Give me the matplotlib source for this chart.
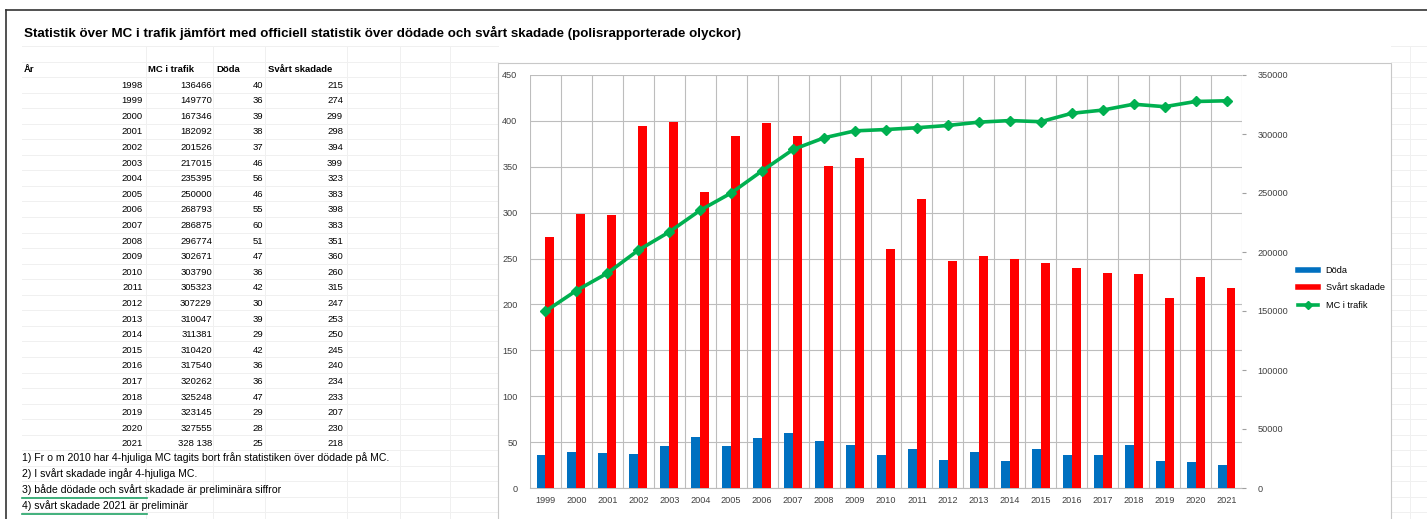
import matplotlib.pyplot as plt
from matplotlib.lines import Line2D
import numpy as np

# Tabellens data (1998-2021)
ar = list(range(1998, 2022))
mc_i_trafik = [136466, 149770, 167346, 182092, 201526, 217015, 235395, 250000,
               268793, 286875, 296774, 302671, 303790, 305323, 307229, 310047,
               311381, 310420, 317540, 320262, 325248, 323145, 327555, 328138]
doda = [40, 36, 39, 38, 37, 46, 56, 46, 55, 60, 51, 47, 36, 42, 30, 39,
        29, 42, 36, 36, 47, 29, 28, 25]
svart_skadade = [215, 274, 299, 298, 394, 399, 323, 383, 398, 383, 351, 360,
                 260, 315, 247, 253, 250, 245, 240, 234, 233, 207, 230, 218]

rubrik = "Statistik över MC i trafik jämfört med officiell statistik över dödade och svårt skadade (polisrapporterade olyckor)"
noter = [
    "1) Fr o m 2010 har 4-hjuliga MC tagits bort från statistiken över dödade på MC.",
    "2) I svårt skadade ingår 4-hjuliga MC.",
    "3) både dödade och svårt skadade är preliminära siffror",
    "4) svårt skadade 2021 är preliminär",
]

plt.rcParams["font.family"] = ["Liberation Sans", "DejaVu Sans"]

W, H = 1427, 519
fig = plt.figure(figsize=(W / 100, H / 100), dpi=100)

# bakgrund = kalkylbladet, i pixelkoordinater
bg = fig.add_axes([0, 0, 1, 1])
bg.set_xlim(0, W)
bg.set_ylim(H, 0)
bg.axis("off")

cell = "#f0f0f0"
for y in np.arange(46, H, 15.55):
    bg.plot([22, 498], [y, y], color=cell, lw=0.7, zorder=0)
    bg.plot([1391, W], [y, y], color=cell, lw=0.7, zorder=0)
for x in [146, 213, 265, 347, 400, 450]:
    bg.plot([x, x], [46, H], color=cell, lw=0.7, zorder=0)
bg.plot([1410, 1410], [46, H], color=cell, lw=0.7, zorder=0)

# ram runt skärmbilden
bg.plot([6, 6], [10, H], color="#333333", lw=1.2)
bg.plot([6, W], [10, 10], color="#333333", lw=1.2)

bg.text(24, 33, rubrik, fontsize=9.6, fontweight="bold", va="center", ha="left")

# tabell
fs = 6.8
y0 = 69
bg.text(24, y0, "År", fontsize=fs, fontweight="bold", va="center")
bg.text(148, y0, "MC i trafik", fontsize=fs, fontweight="bold", va="center")
bg.text(216, y0, "Döda", fontsize=fs, fontweight="bold", va="center")
bg.text(268, y0, "Svårt skadade", fontsize=fs, fontweight="bold", va="center")
for i, a in enumerate(ar):
    y = 85 + i * 15.6
    mc_txt = f"{mc_i_trafik[i]:,}".replace(",", " ") if a == 2021 else str(mc_i_trafik[i])
    bg.text(143, y, str(a), fontsize=fs, ha="right", va="center")
    bg.text(212, y, mc_txt, fontsize=fs, ha="right", va="center")
    bg.text(263, y, str(doda[i]), fontsize=fs, ha="right", va="center")
    bg.text(343, y, str(svart_skadade[i]), fontsize=fs, ha="right", va="center")

for i, n in enumerate(noter):
    bg.text(22, 458 + i * 16, n, fontsize=7.6, ha="left", va="center")
bg.plot([22, 147], [498, 498], color="#21a366", lw=1.2)
bg.plot([22, 147], [514, 514], color="#21a366", lw=1.2)

# diagramramen
bg.add_patch(plt.Rectangle((498, 63), 893, H - 60, facecolor="white",
                           edgecolor="#c8c8c8", lw=0.8, zorder=1))

# diagram (1999-2021)
dia_ar = ar[1:]
dia_doda = doda[1:]
dia_svart = svart_skadade[1:]
dia_mc = mc_i_trafik[1:]
x = np.arange(len(dia_ar))

grid = "#bdbdbd"
ax = fig.add_axes([530 / W, 31 / H, (1242 - 530) / W, (488 - 75) / H])
ax.set_zorder(2)
ax.bar(x - 0.145, dia_doda, width=0.29, color="#0070C0", zorder=3)
ax.bar(x + 0.145, dia_svart, width=0.29, color="#FF0000", zorder=3)
ax.set_xlim(-0.5, len(x) - 0.5)
ax.set_ylim(0, 450)
ax.set_yticks(range(0, 451, 50))
ax.set_xticks(x)
ax.set_xticklabels(dia_ar, fontsize=6.6, color="#404040")
ax.set_xticks(np.arange(-0.5, len(x), 1), minor=True)
ax.tick_params(axis="x", which="major", length=0, pad=6)
ax.tick_params(axis="x", which="minor", length=0)
ax.tick_params(axis="y", length=0, labelsize=6.6, labelcolor="#404040", pad=9)
ax.grid(axis="y", color=grid, lw=0.8, zorder=0)
ax.grid(axis="x", which="minor", color=grid, lw=0.8, zorder=0)
for s in ["top", "left", "right"]:
    ax.spines[s].set_visible(False)
ax.spines["bottom"].set_color(grid)

ax2 = ax.twinx()
ax2.plot(x, dia_mc, color="#00B050", lw=2.6, marker="D", markersize=5, zorder=4)
ax2.set_ylim(0, 350000)
ax2.set_yticks(range(0, 350001, 50000))
ax2.tick_params(axis="y", length=3, color="#a0a0a0", labelsize=6.6,
                labelcolor="#404040", pad=8)
for s in ax2.spines.values():
    s.set_visible(False)

handles = [
    Line2D([0], [0], color="#0070C0", lw=4),
    Line2D([0], [0], color="#FF0000", lw=4),
    Line2D([0], [0], color="#00B050", lw=2.6, marker="D", markersize=4),
]
fig.legend(handles, ["Döda", "Svårt skadade", "MC i trafik"], loc="upper left",
           bbox_to_anchor=(1290 / W, 1 - 258 / H), frameon=False, fontsize=6.6,
           handlelength=2.2, labelspacing=0.9)

fig.savefig("out.png", dpi=100)
